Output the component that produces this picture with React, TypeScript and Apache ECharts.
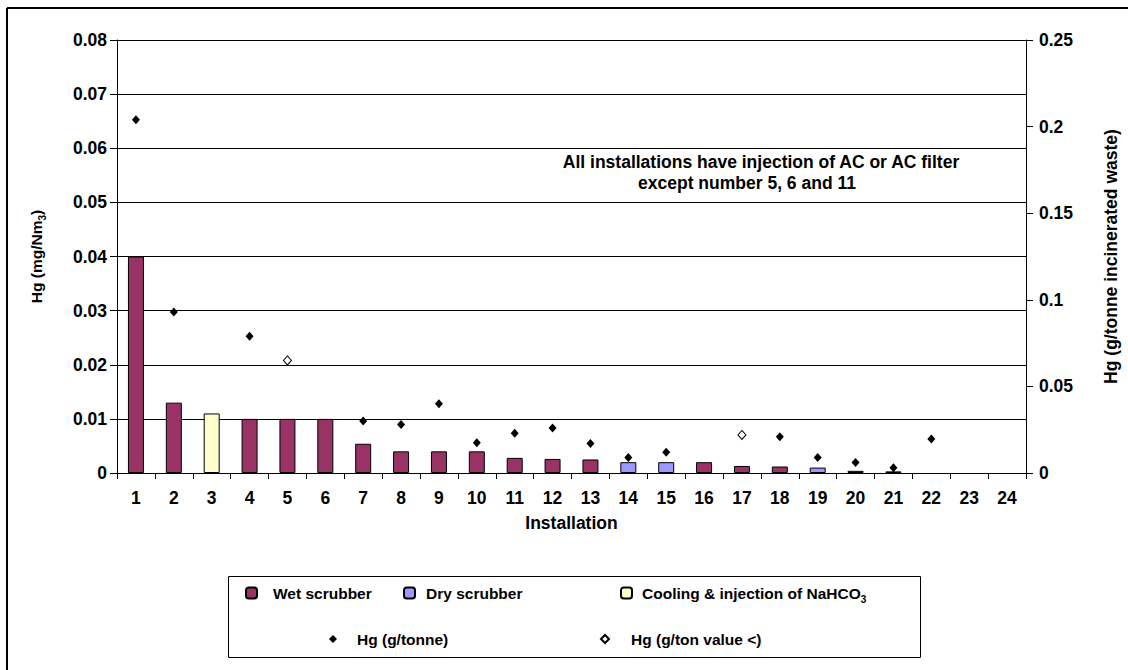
import React, { useEffect, useRef } from "react";
import * as echarts from "echarts";

const FONT = '"Liberation Sans", Arial, sans-serif';
const FS = 15.5;
const AX = 17.5;

const categories = ["1", "2", "3", "4", "5", "6", "7", "8", "9", "10", "11", "12", "13", "14", "15", "16", "17", "18", "19", "20", "21", "22", "23", "24"];

// Hg concentration (mg/Nm3), left axis
const wetScrubber = [0.04, 0.013, null, 0.01, 0.01, 0.01, 0.0054, 0.004, 0.004, 0.004, 0.0028, 0.0026, 0.0025, null, null, 0.002, 0.0013, 0.0012, null, 0.0004, 0.0003, null, null, null];
const dryScrubber = [null, null, null, null, null, null, null, null, null, null, null, null, null, 0.002, 0.002, null, null, null, 0.001, null, null, null, null, null];
const coolingNaHCO3 = [null, null, 0.011, null, null, null, null, null, null, null, null, null, null, null, null, null, null, null, null, null, null, null, null, null];

// Hg per tonne incinerated waste (g/tonne), right axis
const hgTonne = [0.204, 0.093, null, 0.079, null, null, 0.03, 0.028, 0.04, 0.0175, 0.023, 0.026, 0.017, 0.009, 0.012, null, null, 0.021, 0.009, 0.006, 0.003, 0.0196, null, null];
const hgTonneLess = [null, null, null, null, 0.065, null, null, null, null, null, null, null, null, null, null, null, 0.022, null, null, null, null, null, null, null];

const leftTicks = { min: 0, max: 0.08, interval: 0.01 };
const rightTicks = { min: 0, max: 0.25, interval: 0.05 };

const NAMES = {
  wet: "Wet scrubber",
  dry: "Dry scrubber",
  cool: "Cooling & injection of NaHCO3",
  hg: "Hg (g/tonne)",
  hgLess: "Hg (g/ton value <)",
};

const textBase = { fontFamily: FONT, fontSize: FS, fontWeight: "bold" as const, color: "#000" };
const axText = { ...textBase, fontSize: AX };
const subRich = {
  sub: { fontFamily: FONT, fontSize: 10, fontWeight: "bold" as const, color: "#000", verticalAlign: "bottom" as const, lineHeight: 10 },
};

function legendItem(name: string, left: number, top: number, gap: number, size: number, formatter?: (n: string) => string) {
  return {
    data: [name],
    left,
    top,
    padding: 0,
    itemWidth: size,
    itemHeight: size,
    selectedMode: false,
    formatter: formatter,
    textStyle: { ...textBase, padding: [0, 0, 0, gap], lineHeight: 22, rich: subRich },
  };
}

export default function App() {
  const ref = useRef<HTMLDivElement>(null);
  useEffect(() => {
    document.body.style.margin = "0";
    const chart = echarts.init(ref.current!, null, { renderer: "svg" });
    chart.setOption({
      animation: false,
      backgroundColor: "#fff",
      textStyle: { fontFamily: FONT },
      grid: { left: 117, right: 95, top: 40, bottom: 197 },
      xAxis: {
        type: "category",
        data: categories,
        name: "Installation",
        nameLocation: "middle",
        nameGap: 41,
        nameTextStyle: axText,
        axisLine: { lineStyle: { color: "#000", width: 1 } },
        axisTick: { show: true, length: 6, lineStyle: { color: "#000" } },
        axisLabel: { ...axText, margin: 16 },
        splitLine: { show: false },
      },
      yAxis: [
        {
          type: "value",
          ...leftTicks,
          name: "Hg (mg/Nm{sub|3})",
          nameLocation: "middle",
          nameRotate: 90,
          nameGap: 70,
          nameTextStyle: { ...textBase, lineHeight: 22, rich: subRich },
          axisLine: { show: true, lineStyle: { color: "#000", width: 1 } },
          axisTick: { show: true, length: 7, lineStyle: { color: "#000" } },
          axisLabel: { ...axText, margin: 10 },
          splitLine: { show: true, lineStyle: { color: "#000", width: 1 } },
        },
        {
          type: "value",
          ...rightTicks,
          position: "right",
          name: "Hg (g/tonne incinerated waste)",
          nameLocation: "middle",
          nameRotate: 90,
          nameGap: 76,
          nameTextStyle: axText,
          axisLine: { show: true, lineStyle: { color: "#000", width: 1 } },
          axisTick: { show: true, length: 7, lineStyle: { color: "#000" } },
          axisLabel: { ...axText, margin: 13 },
          splitLine: { show: false },
        },
      ],
      legend: [
        legendItem(NAMES.wet, 245, 582, 11, 11),
        legendItem(NAMES.dry, 403, 582, 6, 11),
        legendItem(NAMES.cool, 620, 582, 5, 11, () => "Cooling & injection of NaHCO{sub|3}"),
        legendItem(NAMES.hg, 329, 628, 15, 8),
        legendItem(NAMES.hgLess, 600, 628, 17, 8),
      ],
      series: [
        {
          name: NAMES.wet,
          type: "bar",
          stack: "bars",
          barWidth: 16,
          data: wetScrubber,
          itemStyle: { color: "#993366", borderColor: "#000", borderWidth: 1 },
        },
        {
          name: NAMES.dry,
          type: "bar",
          stack: "bars",
          barWidth: 16,
          data: dryScrubber,
          itemStyle: { color: "#9999FF", borderColor: "#000", borderWidth: 1 },
        },
        {
          name: NAMES.cool,
          type: "bar",
          stack: "bars",
          barWidth: 16,
          data: coolingNaHCO3,
          itemStyle: { color: "#FFFFCC", borderColor: "#000", borderWidth: 1 },
        },
        {
          name: NAMES.hg,
          type: "scatter",
          yAxisIndex: 1,
          symbol: "diamond",
          symbolSize: [8, 9],
          data: hgTonne,
          itemStyle: { color: "#000", opacity: 1 },
          z: 5,
        },
        {
          name: NAMES.hgLess,
          type: "scatter",
          yAxisIndex: 1,
          symbol: "diamond",
          symbolSize: [8, 9],
          data: hgTonneLess,
          itemStyle: { color: "#fff", borderColor: "#000", borderWidth: 1, opacity: 1 },
          z: 5,
        },
      ],
      graphic: [
        { type: "line", shape: { x1: 7, y1: 8, x2: 1128, y2: 8 }, style: { stroke: "#000", lineWidth: 2 } },
        { type: "line", shape: { x1: 7, y1: 8, x2: 7, y2: 670 }, style: { stroke: "#000", lineWidth: 2 } },
        { type: "rect", shape: { x: 228.5, y: 576.5, width: 692, height: 81 }, style: { fill: "none", stroke: "#000", lineWidth: 1 } },
        {
          type: "text",
          x: 761,
          y: 162,
          style: { text: "All installations have injection of AC or AC filter", font: `bold ${AX}px ${FONT}`, fill: "#000", align: "center", verticalAlign: "middle" },
        },
        {
          type: "text",
          x: 747,
          y: 183,
          style: { text: "except number 5, 6 and 11", font: `bold ${AX}px ${FONT}`, fill: "#000", align: "center", verticalAlign: "middle" },
        },
      ],
    });
    return () => chart.dispose();
  }, []);
  return <div ref={ref} style={{ width: 1128, height: 670 }} />;
}
